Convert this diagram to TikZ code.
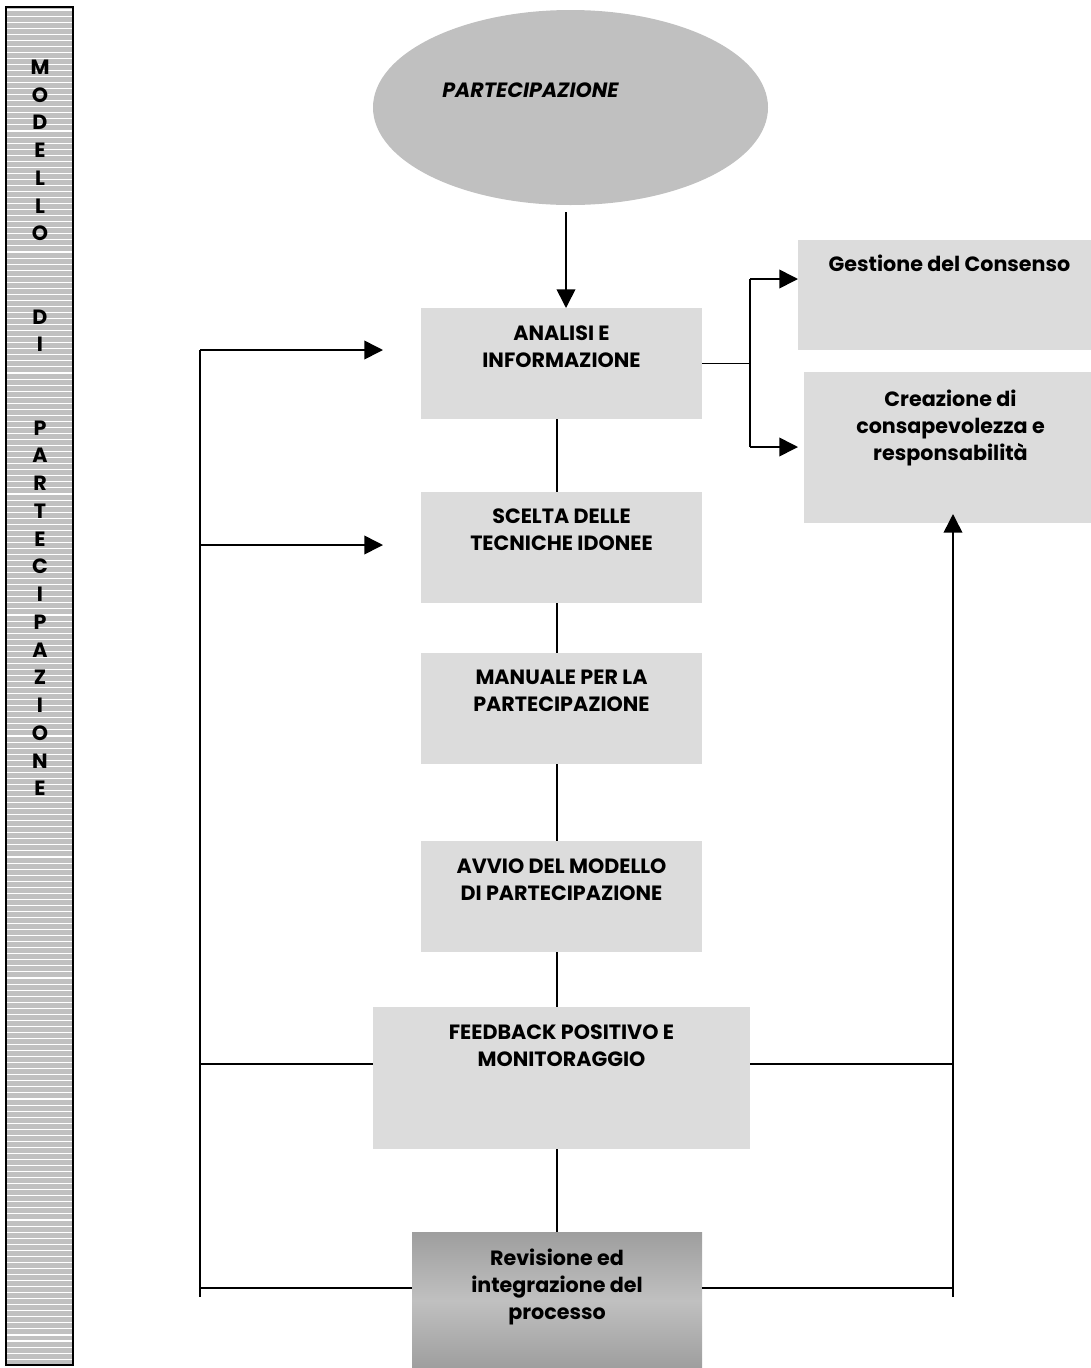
\documentclass[tikz,border=0pt]{standalone}
\usepackage{fontspec}
\setmainfont{Poppins}
\usetikzlibrary{arrows.meta,shapes.geometric,calc}
\definecolor{boxgray}{RGB}{220,220,220}
\definecolor{ellgray}{RGB}{192,192,192}
\definecolor{bargray}{RGB}{192,192,192}
\definecolor{gdark}{RGB}{158,158,158}
\definecolor{glight}{RGB}{192,192,192}
\newcommand\dgboxfont{\fontsize{15.5}{20.25}\selectfont\bfseries}
\begin{document}
\begin{tikzpicture}[x=0.75pt,y=-0.75pt,
  box/.style={fill=boxgray, draw=none, inner sep=0, outer sep=0},
  txt/.style={anchor=north, inner sep=0, align=center, font=\dgboxfont},
  conn/.style={line width=1.2pt, black},
  arr/.style={conn, -{Triangle[length=14pt,width=14pt]}},
  barletter/.style={font=\dgboxfont, inner sep=0}
]
\useasboundingbox (0,0) rectangle (1091,1368);

% left bar
\fill[bargray] (6,7) rectangle (73,1365);
\begin{scope}
  \clip (7,8) rectangle (72,1364);
  \foreach \i in {0,...,224}
    \draw[white, line width=0.8pt] (6,{10+6.05*\i}) -- (73,{10+6.05*\i});
\end{scope}
\draw[line width=1.6pt] (6,7) rectangle (73,1365);
\foreach \ch/\i in {M/0,O/1,D/2,E/3,L/4,L/5,O/6,D/9,I/10,P/13,A/14,R/15,T/16,E/17,C/18,I/19,P/20,A/21,Z/22,I/23,O/24,N/25,E/26}
  \node[barletter] (bl\i) at (40,{67+27.75*\i}) {\ch};

% ellipse
\node[ellipse, fill=ellgray, inner sep=0, minimum width=296.25pt, minimum height=146.25pt] (part) at (570.5,107.5) {};
\node[anchor=north west, inner sep=0, font=\dgboxfont\itshape] (parttxt) at (442,83) {PARTECIPAZIONE};

% main boxes
\node[box, minimum width=210.75pt, minimum height=83.25pt] (analisi) at (561.5,363.5) {};
\node[box, minimum width=210.75pt, minimum height=83.25pt] (scelta) at (561.5,547.5) {};
\node[box, minimum width=210.75pt, minimum height=83.25pt] (manuale) at (561.5,708.5) {};
\node[box, minimum width=210.75pt, minimum height=83.25pt] (avvio) at (561.5,896.5) {};
\node[box, minimum width=282.75pt, minimum height=106.5pt] (feedback) at (561.5,1078) {};
\node[box, top color=gdark, bottom color=gdark, middle color=glight, minimum width=217.5pt, minimum height=102pt] (revisione) at (557,1300) {};
\node[box, minimum width=219.75pt, minimum height=82.5pt] (gestione) at (944.5,295) {};
\node[box, minimum width=215.25pt, minimum height=113.25pt] (creazione) at (947.5,447.5) {};

% texts
\node[txt] (analisitxt) at ($(analisi.north)+(0,18)$) {ANALISI E\\INFORMAZIONE};
\node[txt] (sceltatxt) at ($(scelta.north)+(0,17)$) {SCELTA DELLE\\TECNICHE IDONEE};
\node[txt] (manualetxt) at ($(manuale.north)+(0,17)$) {MANUALE PER LA\\PARTECIPAZIONE};
\node[txt] (avviotxt) at ($(avvio.north)+(0,18)$) {AVVIO DEL MODELLO\\DI PARTECIPAZIONE};
\node[txt] (feedbacktxt) at ($(feedback.north)+(0,18)$) {FEEDBACK POSITIVO E\\MONITORAGGIO};
\node[txt] (revisionetxt) at ($(revisione.north)+(0,17)$) {Revisione ed\\integrazione del\\processo};
\node[txt] (gestionetxt) at ($(gestione.north)+(5,15)$) {Gestione del Consenso};
\node[txt] (creazionetxt) at ($(creazione.north)+(3,18)$) {Creazione di\\consapevolezza e\\responsabilità};

% spine connectors
\coordinate (spine) at (557,0);
\coordinate (a0) at (566,212);
\draw[arr] (a0) -- (a0 |- analisi.north);
\draw[conn] (analisi.south -| spine) -- (scelta.north -| spine);
\draw[conn] (scelta.south -| spine) -- (manuale.north -| spine);
\draw[conn] (manuale.south -| spine) -- (avvio.north -| spine);
\draw[conn] (avvio.south -| spine) -- (feedback.north -| spine);
\draw[conn] (feedback.south -| spine) -- (revisione.north -| spine);

% attachment points
\coordinate (fbw) at ([yshift=10.5pt]feedback.west);
\coordinate (fbe) at ([yshift=10.5pt]feedback.east);
\coordinate (rvw) at ([yshift=9pt]revisione.west);
\coordinate (rve) at ([yshift=9pt]revisione.east);

% left loop
\coordinate (ltop) at (200,350);
\coordinate (lbot) at (200,1297);
\coordinate (la1) at (383,350);
\coordinate (la2) at (383,545);
\draw[conn] (ltop) -- (lbot);
\draw[arr] (ltop) -- (la1);
\draw[arr] (ltop |- la2) -- (la2);
\draw[conn] (ltop |- fbw) -- (fbw);
\draw[conn] (ltop |- rvw) -- (rvw);

% right branch
\coordinate (rt) at (750,279);
\coordinate (rb) at (750,447);
\coordinate (ca) at (798,447);
\draw[conn] (analisi.east) -- (analisi.east -| rt);
\draw[conn] (rt) -- (rb);
\draw[arr] (rt) -- (gestione.west |- rt);
\draw[arr] (rb) -- (ca);

% right loop
\coordinate (rr) at (953,1297);
\coordinate (rtip) at (953,514);
\draw[arr] (rr) -- (rtip);
\draw[conn] (fbe) -- (fbe -| rr);
\draw[conn] (rve) -- (rve -| rr);
\end{tikzpicture}
\end{document}
